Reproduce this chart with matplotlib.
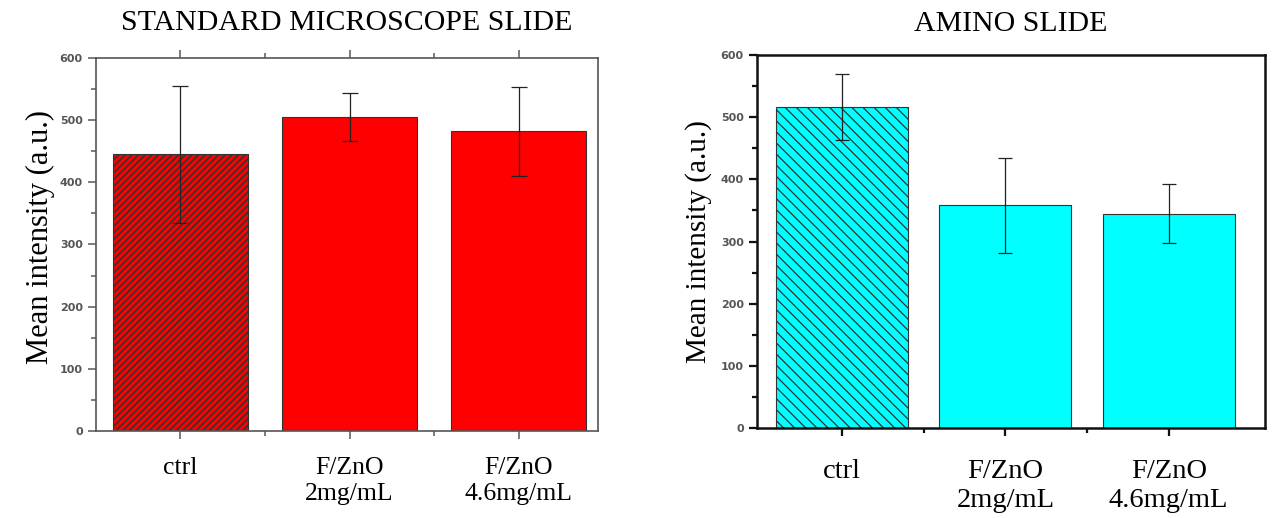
import numpy as np
import matplotlib
matplotlib.use("Agg")
import matplotlib.pyplot as plt
from matplotlib.ticker import MultipleLocator, FixedLocator

# Data
categories = ["ctrl", "F/ZnO\n2mg/mL", "F/ZnO\n4.6mg/mL"]
standard_mean = [445, 505, 482]
standard_err = [110, 38, 72]
amino_mean = [517, 358, 345]
amino_err = [53, 76, 48]

plt.rcParams["hatch.color"] = "#1a1a1a"

serif = "Liberation Serif"

fig = plt.figure(figsize=(12.76, 5.18), dpi=100)
ax1 = fig.add_axes([0.0752, 0.168, 0.3935, 0.720])
ax2 = fig.add_axes([0.5933, 0.1737, 0.3981, 0.720])

x = np.arange(len(categories))


def style_axis(ax, spine_color, spine_lw, top_ticks, label_size, pad, spacing):
    for s in ax.spines.values():
        s.set_color(spine_color)
        s.set_linewidth(spine_lw)
    ax.set_ylim(0, 600)
    ax.yaxis.set_major_locator(MultipleLocator(100))
    ax.yaxis.set_minor_locator(MultipleLocator(50))
    ax.set_xticks(x)
    ax.set_xticklabels(categories, fontfamily=serif, fontsize=label_size, linespacing=spacing)
    ax.xaxis.set_minor_locator(FixedLocator([0.5, 1.5]))
    ax.tick_params(axis="both", which="both", direction="out", color=spine_color,
                   width=spine_lw * 0.9, top=top_ticks, right=False)
    ax.tick_params(axis="both", which="major", length=6)
    ax.tick_params(axis="both", which="minor", length=3.5)
    ax.tick_params(axis="x", which="major", pad=pad)
    for lab in ax.get_yticklabels():
        lab.set_fontsize(8)
        lab.set_fontweight("bold")
        lab.set_color("#555555")


# Left panel: standard microscope slide
with plt.rc_context({"hatch.linewidth": 1.2}):
    bars1 = ax1.bar(x, standard_mean, width=0.8, color="#ff0000", edgecolor="#333333",
                    linewidth=0.8, zorder=2)
bars1[0].set_hatch("/////")
ax1.errorbar(x, standard_mean, yerr=standard_err, fmt="none", ecolor="#222222",
             elinewidth=0.9, capsize=5.5, capthick=0.9, zorder=3)
ax1.set_xlim(-0.5, 2.47)
style_axis(ax1, "#555555", 1.2, True, 18.5, 13, 1.2)
ax1.set_ylabel("Mean intensity (a.u.)", fontfamily=serif, fontsize=22)
ax1.yaxis.set_label_coords(-0.082, 0.52)
ax1.set_title("STANDARD MICROSCOPE SLIDE", fontfamily=serif, fontsize=21.5, pad=20)

# Right panel: amino slide
with plt.rc_context({"hatch.linewidth": 0.9}):
    bars2 = ax2.bar(x, amino_mean, width=0.81, color="#00ffff", edgecolor="#333333",
                    linewidth=0.8, zorder=2)
bars2[0].set_hatch("\\\\\\")
ax2.errorbar(x, amino_mean, yerr=amino_err, fmt="none", ecolor="#222222",
             elinewidth=0.9, capsize=5, capthick=0.9, zorder=3)
ax2.set_xlim(-0.52, 2.59)
style_axis(ax2, "#111111", 1.8, False, 20.5, 16, 1.25)
ax2.set_ylabel("Mean intensity (a.u.)", fontfamily=serif, fontsize=21, labelpad=6)
ax2.set_title("AMINO SLIDE", fontfamily=serif, fontsize=21.5, pad=17)

fig.savefig("out.png", dpi=100)
